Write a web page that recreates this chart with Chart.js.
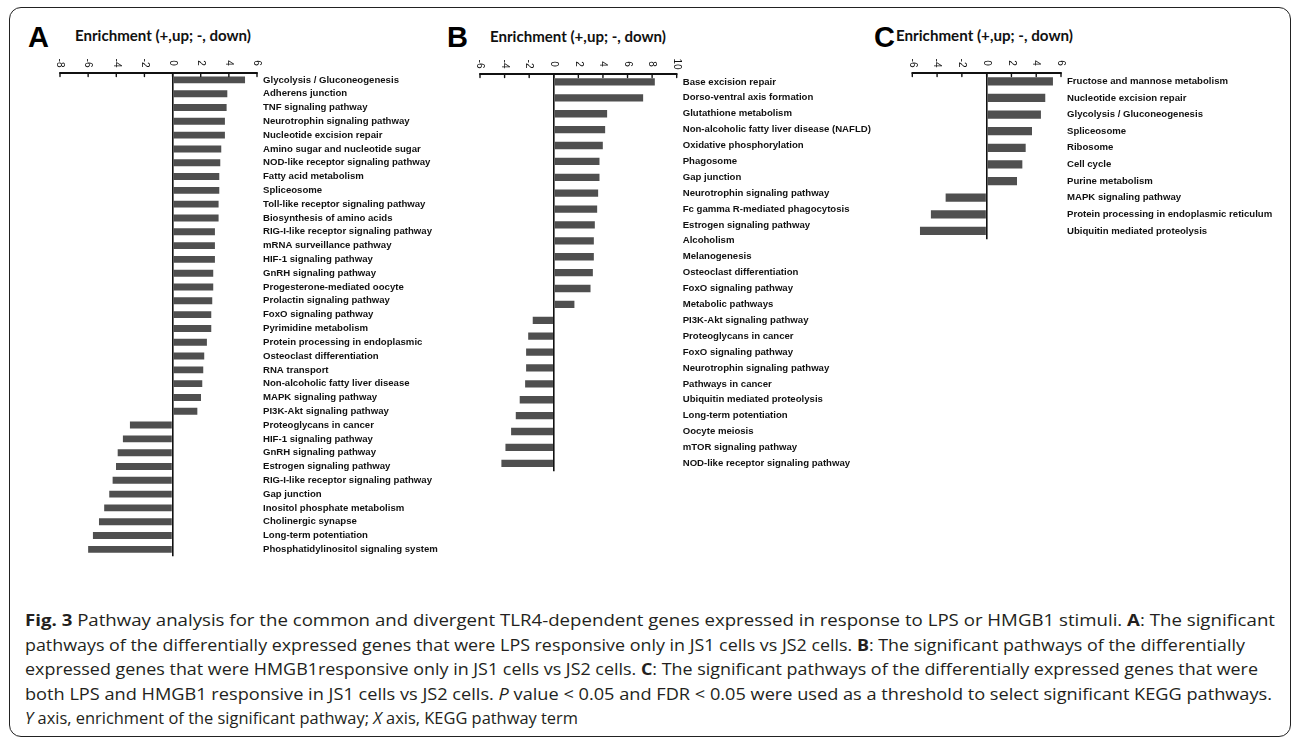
<!DOCTYPE html>
<html><head><meta charset="utf-8">
<script src="https://cdn.jsdelivr.net/npm/chart.js@4/dist/chart.umd.min.js"></script>
<style>
html,body{margin:0;padding:0;background:#fff}
body{width:1292px;height:738px;overflow:hidden;position:relative;font-family:"Liberation Sans",Arial,sans-serif}
.frame{position:absolute;left:9px;top:7px;width:1282px;height:730px;border:1.5px solid #222;border-radius:12px;box-sizing:border-box}
.cv{position:absolute}
.letter{position:absolute;font-family:"Liberation Sans",Arial,sans-serif;font-weight:bold;font-size:29px;line-height:29px;color:#000}
.ttl{position:absolute;font-family:Lato,"Open Sans",sans-serif;font-weight:700;font-size:15px;line-height:16px;color:#111;white-space:nowrap;transform-origin:0 50%}
.cap{position:absolute;left:25px;font-family:"Open Sans",sans-serif;font-size:16.5px;line-height:24.5px;color:#231f20;white-space:nowrap;transform-origin:0 50%}
</style></head>
<body>
<div class="frame"></div>
<div class="letter" style="left:28px;top:23px">A</div>
<div class="ttl" data-w="176" style="left:75px;top:27px">Enrichment (+,up; -, down)</div>
<div class="letter" style="left:447px;top:23px">B</div>
<div class="ttl" data-w="176" style="left:490px;top:28px">Enrichment (+,up; -, down)</div>
<div class="letter" style="left:874px;top:23px">C</div>
<div class="ttl" data-w="177" style="left:896px;top:27px">Enrichment (+,up; -, down)</div>

<canvas id="cA" class="cv" style="left:0px;top:0px"></canvas>
<canvas id="cB" class="cv" style="left:430px;top:0px"></canvas>
<canvas id="cC" class="cv" style="left:860px;top:0px"></canvas>

<div class="cap" data-w="1250" style="top:608px"><b>Fig. 3</b> Pathway analysis for the common and divergent TLR4-dependent genes expressed in response to LPS or HMGB1 stimuli. <b>A</b>: The significant</div>
<div class="cap" data-w="1220" style="top:632.5px">pathways of the differentially expressed genes that were LPS responsive only in JS1 cells vs JS2 cells. <b>B</b>: The significant pathways of the differentially</div>
<div class="cap" data-w="1233" style="top:657px">expressed genes that were HMGB1responsive only in JS1 cells vs JS2 cells. <b>C</b>: The significant pathways of the differentially expressed genes that were</div>
<div class="cap" data-w="1247" style="top:681.5px">both LPS and HMGB1 responsive in JS1 cells vs JS2 cells. <i>P</i> value &lt; 0.05 and FDR &lt; 0.05 were used as a threshold to select significant KEGG pathways.</div>
<div class="cap" data-w="553" style="top:706px"><i>Y</i> axis, enrichment of the significant pathway; <i>X</i> axis, KEGG pathway term</div>

<script>
// ---- Panel A ----
const catA = [
 "Glycolysis / Gluconeogenesis","Adherens junction","TNF signaling pathway","Neurotrophin signaling pathway",
 "Nucleotide excision repair","Amino sugar and nucleotide sugar","NOD-like receptor signaling pathway",
 "Fatty acid metabolism","Spliceosome","Toll-like receptor signaling pathway","Biosynthesis of amino acids",
 "RIG-I-like receptor signaling pathway","mRNA surveillance pathway","HIF-1 signaling pathway",
 "GnRH signaling pathway","Progesterone-mediated oocyte","Prolactin signaling pathway","FoxO signaling pathway",
 "Pyrimidine metabolism","Protein processing in endoplasmic","Osteoclast differentiation","RNA transport",
 "Non-alcoholic fatty liver disease","MAPK signaling pathway","PI3K-Akt signaling pathway",
 "Proteoglycans in cancer","HIF-1 signaling pathway","GnRH signaling pathway","Estrogen signaling pathway",
 "RIG-I-like receptor signaling pathway","Gap junction","Inositol phosphate metabolism","Cholinergic synapse",
 "Long-term potentiation","Phosphatidylinositol signaling system"];
const valA = [5.15,3.89,3.84,3.72,3.72,3.46,3.39,3.32,3.32,3.27,3.27,3.01,3.01,3.01,2.89,2.89,2.82,2.75,2.75,
 2.44,2.25,2.18,2.11,2.02,1.76,-3.03,-3.53,-3.90,-4.02,-4.26,-4.50,-4.86,-5.23,-5.66,-6.0];
const ticksA = [-8,-6,-4,-2,0,2,4,6];

// ---- Panel B ----
const catB = ["Base excision repair","Dorso-ventral axis formation","Glutathione metabolism",
 "Non-alcoholic fatty liver disease (NAFLD)","Oxidative phosphorylation","Phagosome","Gap junction",
 "Neurotrophin signaling pathway","Fc gamma R-mediated phagocytosis","Estrogen signaling pathway","Alcoholism",
 "Melanogenesis","Osteoclast differentiation","FoxO signaling pathway","Metabolic pathways",
 "PI3K-Akt signaling pathway","Proteoglycans in cancer","FoxO signaling pathway","Neurotrophin signaling pathway",
 "Pathways in cancer","Ubiquitin mediated proteolysis","Long-term potentiation","Oocyte meiosis",
 "mTOR signaling pathway","NOD-like receptor signaling pathway"];
const valB = [8.22,7.27,4.34,4.18,3.99,3.72,3.72,3.61,3.53,3.34,3.26,3.26,3.18,2.99,1.68,
 -1.71,-2.08,-2.25,-2.25,-2.33,-2.77,-3.09,-3.47,-3.93,-4.26];
const ticksB = [-6,-4,-2,0,2,4,6,8,10];

// ---- Panel C ----
const catC = ["Fructose and mannose metabolism","Nucleotide excision repair","Glycolysis / Gluconeogenesis",
 "Spliceosome","Ribosome","Cell cycle","Purine metabolism","MAPK signaling pathway",
 "Protein processing in endoplasmic reticulum","Ubiquitin mediated proteolysis"];
const valC = [5.35,4.73,4.38,3.66,3.15,2.88,2.45,-3.31,-4.50,-5.38];
const ticksC = [-6,-4,-2,0,2,4,6];

const topAxis = {
  id:'topAxis',
  afterDraw(chart){
    const s = chart.scales.x, ctx = chart.ctx, y = s.bottom;
    ctx.save();
    ctx.strokeStyle = '#111'; ctx.lineWidth = 1.8; ctx.lineCap='round';
    ctx.beginPath(); ctx.moveTo(s.left, y); ctx.lineTo(s.right, y); ctx.stroke();
    ctx.lineWidth = 1.4;
    s.ticks.forEach((t,i)=>{
      const x = s.getPixelForTick(i);
      ctx.beginPath(); ctx.moveTo(x, y); ctx.lineTo(x, y+3.5); ctx.stroke();
      ctx.save();
      ctx.translate(x, y-10);
      ctx.rotate(Math.PI/2);
      ctx.fillStyle = '#111';
      ctx.font = '10px "Liberation Sans", Arial, sans-serif';
      ctx.textAlign = 'center'; ctx.textBaseline = 'middle';
      ctx.fillText(String(t.value), 0, 0);
      ctx.restore();
    });
    ctx.restore();
  }
};

function makeChart(id, w, h, cats, vals, ticks, pad, yW, barPct){
  const cv = document.getElementById(id);
  cv.width = w; cv.height = h; cv.style.width = w+'px'; cv.style.height = h+'px';
  return new Chart(cv, {
    type:'bar',
    data:{labels:cats, datasets:[{data:vals, backgroundColor:'#4f4f4f', borderWidth:0,
      categoryPercentage:1.0, barPercentage:barPct}]},
    options:{
      indexAxis:'y', responsive:false, animation:false, devicePixelRatio:1,
      layout:{padding:pad},
      plugins:{legend:{display:false}, tooltip:{enabled:false}, title:{display:false}},
      scales:{
        x:{type:'linear', position:'top', min:ticks[0], max:ticks[ticks.length-1],
          ticks:{display:false, stepSize:2},
          border:{display:false},
          grid:{drawTicks:false, lineWidth:1.6,
            color:(c)=> (c.tick && c.tick.value===0) ? '#111' : 'rgba(0,0,0,0)'},
          afterFit:(s)=>{ s.height = 31; }
        },
        y:{type:'category', position:'right',
          grid:{display:false, drawTicks:false}, border:{display:false},
          ticks:{autoSkip:false, padding:6, color:'#111',
            font:{family:'"Liberation Sans", Arial, sans-serif', weight:'bold', size:9.6}},
          afterFit:(s)=>{ s.width = yW; }
        }
      }
    },
    plugins:[topAxis]
  });
}

makeChart('cA', 450, 568, catA, valA, ticksA, {left:60, top:42, right:0, bottom:10}, 193, 0.5);
makeChart('cB', 450, 483, catB, valB, ticksB, {left:50, top:43, right:0, bottom:10}, 203.3, 0.46);
makeChart('cC', 432, 251, catC, valC, ticksC, {left:52.3, top:42, right:0, bottom:10}, 231, 0.5);

document.querySelectorAll('.cap, .ttl').forEach(el=>{
  const target = parseFloat(el.dataset.w);
  const w = el.getBoundingClientRect().width;
  el.style.transform = 'scaleX(' + (target/w) + ')';
});
</script>
</body></html>
